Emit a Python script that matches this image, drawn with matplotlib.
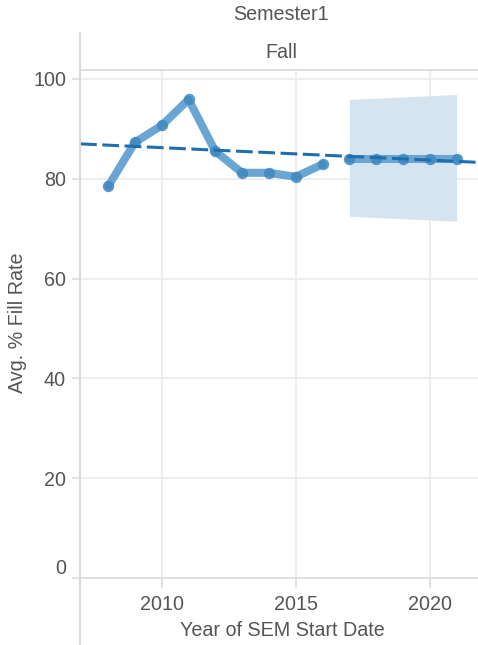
import matplotlib
matplotlib.use("Agg")
import matplotlib.pyplot as plt
import matplotlib.transforms as mtransforms
from matplotlib.lines import Line2D
import numpy as np

plt.rcParams['font.family'] = ['Liberation Sans', 'DejaVu Sans']

# Data
years_actual = [2008, 2009, 2010, 2011, 2012, 2013, 2014, 2015, 2016]
fill_actual = [78.5, 87.3, 90.7, 95.9, 85.5, 81.2, 81.2, 80.4, 82.9]
years_fc = [2017, 2018, 2019, 2020, 2021]
fill_fc = [84.0, 84.0, 84.0, 84.0, 84.0]
band_years = [2017, 2021]
band_upper = [95.9, 96.9]
band_lower = [72.5, 71.5]
trend_x = [2006.95, 2021.8]
trend_y = [87.0, 83.3]
xticks = [2010, 2015, 2020]
yticks = [0, 20, 40, 60, 80, 100]

W, H = 478, 645
fig = plt.figure(figsize=(W / 100, H / 100), dpi=100)
L, R, T, B = 80, 478, 70, 578
ax = fig.add_axes([L / W, 1 - B / H, (R - L) / W, (B - T) / H])
ax.set_xlim(2006.95, 2021.8)
ax.set_ylim(0, (B - T) / 4.99)

txt = '#555555'
grid = '#ebebeb'
fs = 14.2

ax.fill_between(band_years, band_lower, band_upper, color='#d5e4ef', lw=0, zorder=1)

line_c = '#6aa6d3'
mark_c = '#3f88c1'
ax.plot(years_actual, fill_actual, color=line_c, lw=5.8, solid_capstyle='round',
        solid_joinstyle='round', zorder=3)
ax.plot(years_actual, fill_actual, 'o', color=mark_c, ms=8.2, mew=0, alpha=0.85, zorder=4)
ax.plot(years_fc, fill_fc, color=line_c, lw=5.8, solid_capstyle='round', zorder=3)
ax.plot(years_fc, fill_fc, 'o', color=mark_c, ms=8.2, mew=0, alpha=0.85, zorder=4)
ax.plot(trend_x, trend_y, color='#1f6fb0', lw=2.2, dashes=(5.5, 1.8), zorder=5)

ax.set_xticks(xticks)
ax.set_yticks(yticks)
ax.grid(True, color=grid, lw=1.2, zorder=0)
ax.set_axisbelow(True)
for s in ['top', 'right', 'bottom', 'left']:
    ax.spines[s].set_visible(False)
ax.spines['bottom'].set_visible(True)
ax.spines['bottom'].set_color('#dcdcdc')
ax.spines['bottom'].set_linewidth(1.2)
ax.tick_params(axis='both', colors='#dcdcdc', labelcolor=txt, labelsize=fs, width=1.2)
ax.tick_params(axis='y', length=6, pad=4)
ax.tick_params(axis='x', length=7, pad=5)

# lift the "0" label slightly above the axis line, as in the reference
lab0 = ax.get_yticklabels()[0]
lab0.set_transform(lab0.get_transform() + mtransforms.ScaledTranslation(0, 11 / 100, fig.dpi_scale_trans))

fig.text(282 / W, 1 - 636 / H, 'Year of SEM Start Date', ha='center', va='baseline',
         fontsize=fs, color=txt)
fig.text(17.5 / W, 1 - 323 / H, 'Avg. % Fill Rate', ha='center', va='center',
         rotation=90, fontsize=fs, color=txt)

# Frame lines
fig.add_artist(Line2D([L / W, L / W], [0, 1 - 33 / H], color='#d9d9d9', lw=1.5,
                      transform=fig.transFigure))
fig.add_artist(Line2D([L / W, 1], [1 - T / H, 1 - T / H], color='#d9d9d9', lw=1.2,
                      transform=fig.transFigure))

cx = 281 / W
fig.text(cx, 1 - 15 / H, 'Semester1', ha='center', va='center', fontsize=fs, color=txt)
fig.text(cx, 1 - 52 / H, 'Fall', ha='center', va='center', fontsize=fs, color=txt)

fig.savefig('out.png', dpi=100)
